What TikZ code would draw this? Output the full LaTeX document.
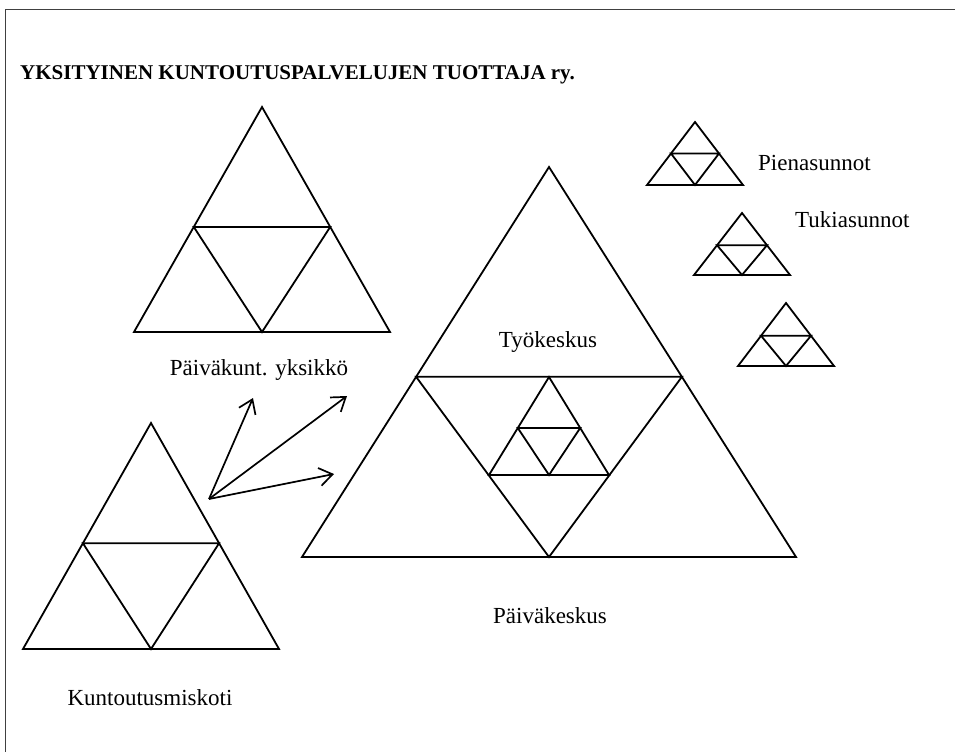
\documentclass[tikz,border=0pt]{standalone}
\usepackage{fontspec}
\setmainfont{Liberation Serif}
\usepackage{tikz}
\usetikzlibrary{arrows.meta}
\tikzset{
  viiva/.style ={draw=black, line width=1.8pt, line join=miter},
  kehys/.style ={draw=black!75, line width=1.8pt},
  nuoli/.style ={-{Straight Barb[length=13pt,width=18pt,line width=1.7pt]}, line width=1.7pt},
  teksti/.style={anchor=base, inner sep=0pt, font=\fontsize{23}{27}\selectfont},
  otsikko/.style={anchor=base west, inner sep=0pt, font=\fontsize{21}{25}\selectfont\bfseries}
}
% kolmio: huippu x, huippu y, puolileveys, korkeus, keskiviivan osuus
\newcommand{\kolmio}[5]{%
  \draw[viiva] (#1,#2) -- ({#1-#3},{#2+#4}) -- ({#1+#3},{#2+#4}) -- cycle;
  \draw[viiva] ({#1-#5*#3},{#2+#5*#4}) -- ({#1+#5*#3},{#2+#5*#4})
    -- (#1,{#2+#4}) -- cycle;}

\begin{document}
\begin{tikzpicture}[x=1pt, y=-1pt]
\useasboundingbox (0,0) rectangle (955,752);
\draw[kehys] (955,9.5) -- (5.5,9.5) -- (5.5,752);

\node[otsikko] (otsikko) at (20,79) {YKSITYINEN KUNTOUTUSPALVELUJEN TUOTTAJA ry.};

% kolmiot
\kolmio{262}{107}{128}{225}{0.533}
\kolmio{151}{423}{128}{226}{0.532}
\kolmio{549}{167}{247}{390}{0.538}
\kolmio{549}{377}{60}{98}{0.52}
\kolmio{695}{122}{48}{63}{0.5}
\kolmio{742}{213}{48}{62}{0.52}
\kolmio{786}{303}{48}{63}{0.52}

\node[teksti] (pvyks) at (259,375) {Päiväkunt. yksikkö};
\node[teksti] (koti) at (150,705) {Kuntoutusmiskoti};
\node[teksti] (tyo) at (548,347) {Työkeskus};
\node[teksti] (pvkes) at (550,623) {Päiväkeskus};
\node[teksti, anchor=base west] (pien) at (758,170) {Pienasunnot};
\node[teksti, anchor=base west] (tuki) at (795,227) {Tukiasunnot};

% nuolet
\coordinate (lahto) at (209,499);
\coordinate (k1) at (253,398);
\coordinate (k2) at (347,396);
\coordinate (k3) at (334,474);
\draw[nuoli] (lahto) -- (k1);
\draw[nuoli] (lahto) -- (k2);
\draw[nuoli] (lahto) -- (k3);
\end{tikzpicture}
\end{document}
